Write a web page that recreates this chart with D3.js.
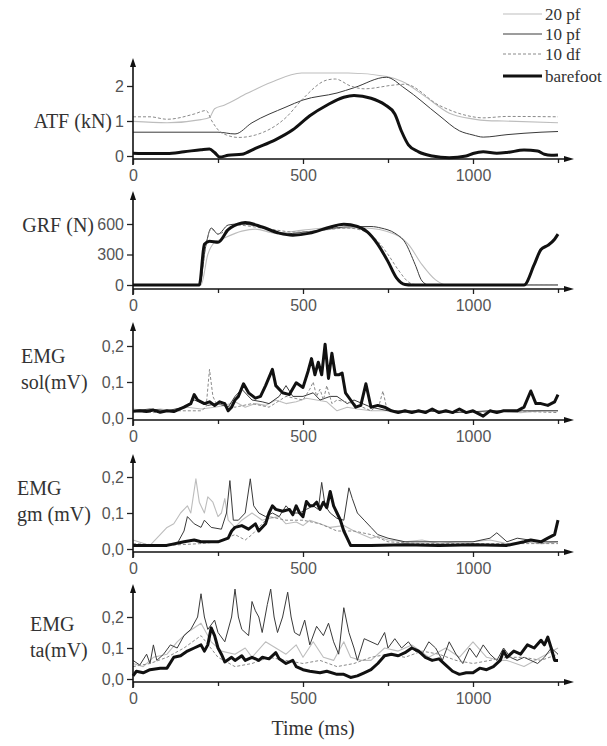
<!DOCTYPE html>
<html>
<head>
<meta charset="utf-8">
<script src="https://cdn.jsdelivr.net/npm/d3@7"></script>
<style>
	body { margin: 0; background: #fff; }
	svg { display: block; }
	.tick text { font-family: "Liberation Sans", Arial, sans-serif; font-size: 16px; fill: #555; }
	.ttl { font-family: "Liberation Serif", "Times New Roman", serif; font-size: 20px; fill: #333; }
</style>
</head>
<body>
<div id="chart"></div>
<script>

// series names and look (legend order)
let series = ['20 pf', '10 pf', '10 df', 'barefoot']

// ATF (kN) : [ms, value]
let atf20pf = [[0,0.99],[100,0.95],[200,1.04],[225,1.1],[240,1.35],[268,1.45],[336,1.79],[405,2.1],[496,2.37],[633,2.37],[747,2.27],[792,2.13],[861,1.69],[929,1.23],[998,1.06],[1043,1.01],[1089,1.0],[1250,0.95]]
let atf10pf = [[0,0.68],[150,0.68],[250,0.68],[300,0.63],[350,0.95],[450,1.4],[500,1.6],[600,1.8],[650,1.95],[745,2.25],[800,1.93],[900,1.16],[960,0.72],[1000,0.6],[1030,0.54],[1100,0.61],[1200,0.68],[1250,0.7]]
let atf10df = [[0,1.12],[50,1.12],[100,1.05],[180,1.2],[215,1.3],[232,1.0],[255,0.7],[275,0.6],[310,0.53],[360,0.6],[450,1.1],[500,1.64],[570,2.17],[595,2.2],[640,2.0],[680,1.92],[770,2.03],[800,2.05],[900,1.45],[980,1.16],[1030,1.09],[1100,1.13],[1250,1.12]]
let atfBare = [[0,0.08],[50,0.07],[100,0.07],[150,0.12],[200,0.18],[225,0.2],[240,0.1],[255,-0.03],[280,0.02],[320,0.05],[360,0.22],[420,0.47],[470,0.75],[520,1.15],[570,1.45],[620,1.68],[650,1.73],[700,1.65],[740,1.47],[770,1.2],[790,0.7],[810,0.32],[840,0.12],[880,0.0],[930,-0.05],[980,0.0],[1000,0.07],[1030,0.12],[1070,0.08],[1100,0.1],[1150,0.17],[1190,0.14],[1210,0.05],[1230,0.02],[1250,0.03]]

// GRF (N)
let grf20pf = [[0,0],[200,0],[220,300],[240,420],[260,450],[320,530],[360,550],[420,510],[500,540],[580,560],[680,560],[770,500],[810,400],[850,200],[890,50],[920,2],[1250,2]]
let grf10pf = [[0,0],[195,0],[215,400],[230,560],[250,500],[280,590],[310,600],[390,560],[440,500],[500,520],[560,540],[620,570],[700,575],[730,560],[770,510],[800,420],[830,200],[850,40],[870,0],[1250,0]]
let grf10df = [[0,0],[195,0],[215,400],[230,550],[250,500],[300,590],[400,550],[480,520],[560,540],[630,560],[680,530],[720,430],[750,300],[780,150],[810,30],[830,5],[1250,5]]
let grfBare = [[0,0],[195,0],[210,400],[225,430],[250,420],[280,545],[320,610],[330,615],[380,570],[430,510],[470,490],[520,510],[570,560],[620,598],[660,575],[690,520],[720,400],[750,230],[775,70],[800,5],[820,0],[1150,0],[1180,200],[1200,350],[1220,390],[1240,450],[1250,500]]

// EMG sol (mV)
let sol20pf = [[0,0.025],[40,0.02],[80,0.025],[120,0.02],[160,0.03],[200,0.025],[240,0.03],[270,0.035],[300,0.045],[330,0.03],[360,0.04],[390,0.035],[420,0.05],[450,0.04],[480,0.045],[510,0.055],[540,0.05],[570,0.045],[600,0.02],[630,0.03],[660,0.025],[700,0.02],[760,0.02],[820,0.015],[900,0.02],[980,0.015],[1060,0.02],[1140,0.015],[1200,0.02],[1250,0.02]]
let sol10pf = [[0,0.02],[50,0.025],[100,0.02],[150,0.03],[180,0.05],[220,0.035],[250,0.04],[280,0.03],[300,0.06],[320,0.08],[350,0.05],[380,0.045],[400,0.04],[430,0.06],[450,0.09],[470,0.06],[500,0.06],[530,0.07],[550,0.05],[580,0.06],[600,0.06],[630,0.04],[650,0.05],[700,0.03],[750,0.02],[850,0.02],[950,0.015],[1050,0.02],[1150,0.02],[1250,0.02]]
let sol10df = [[0,0.02],[60,0.015],[120,0.02],[200,0.02],[215,0.03],[225,0.135],[235,0.06],[245,0.04],[300,0.03],[350,0.04],[400,0.03],[450,0.06],[500,0.05],[520,0.08],[530,0.1],[540,0.06],[550,0.08],[560,0.05],[570,0.09],[585,0.04],[600,0.05],[650,0.04],[700,0.02],[725,0.04],[735,0.075],[748,0.02],[800,0.015],[900,0.02],[1000,0.015],[1100,0.02],[1250,0.015]]
let solBare = [[0,0.019],[20,0.02],[40,0.018],[60,0.022],[80,0.016],[100,0.02],[120,0.018],[150,0.03],[170,0.04],[180,0.065],[190,0.05],[200,0.045],[210,0.04],[225,0.045],[240,0.035],[255,0.045],[270,0.04],[280,0.02],[290,0.03],[300,0.05],[310,0.06],[325,0.095],[340,0.07],[360,0.055],[375,0.06],[390,0.09],[410,0.135],[420,0.09],[440,0.07],[460,0.065],[480,0.098],[500,0.085],[515,0.13],[525,0.165],[535,0.12],[545,0.155],[555,0.12],[565,0.205],[575,0.11],[585,0.18],[595,0.12],[605,0.12],[615,0.125],[625,0.07],[640,0.05],[655,0.03],[670,0.035],[685,0.095],[700,0.03],[720,0.035],[740,0.03],[760,0.02],[780,0.015],[800,0.02],[820,0.015],[840,0.02],[860,0.015],[880,0.025],[900,0.015],[920,0.02],[940,0.015],[960,0.025],[980,0.015],[1000,0.02],[1030,0.005],[1050,0.02],[1070,0.015],[1090,0.02],[1110,0.02],[1130,0.02],[1150,0.03],[1170,0.075],[1185,0.04],[1200,0.04],[1220,0.035],[1240,0.045],[1250,0.065]]

// EMG gm (mV)
let gm20pf = [[0,0.025],[50,0.01],[80,0.04],[100,0.06],[120,0.07],[140,0.1],[160,0.12],[170,0.1],[185,0.195],[195,0.13],[210,0.1],[220,0.145],[235,0.13],[250,0.09],[260,0.1],[270,0.14],[280,0.08],[300,0.06],[320,0.08],[350,0.1],[380,0.08],[400,0.085],[430,0.09],[450,0.07],[480,0.075],[500,0.065],[520,0.08],[550,0.07],[580,0.06],[620,0.065],[650,0.05],[700,0.03],[720,0.035],[750,0.025],[800,0.02],[850,0.025],[900,0.015],[950,0.02],[1000,0.02],[1050,0.025],[1100,0.015],[1150,0.02],[1200,0.015],[1250,0.02]]
let gm10pf = [[0,0.01],[60,0.01],[130,0.015],[150,0.05],[160,0.09],[180,0.07],[200,0.06],[210,0.08],[230,0.06],[260,0.055],[275,0.1],[285,0.19],[295,0.08],[310,0.08],[330,0.1],[345,0.195],[355,0.12],[370,0.1],[390,0.09],[410,0.1],[430,0.09],[450,0.12],[470,0.1],[490,0.1],[510,0.11],[530,0.12],[545,0.11],[555,0.185],[565,0.12],[580,0.1],[600,0.085],[620,0.08],[635,0.17],[645,0.14],[660,0.1],[680,0.08],[700,0.06],[720,0.04],[750,0.03],[800,0.02],[900,0.02],[1000,0.02],[1050,0.03],[1070,0.045],[1100,0.02],[1130,0.03],[1200,0.02],[1250,0.02]]
let gm10df = [[0,0.015],[100,0.01],[200,0.015],[250,0.02],[300,0.04],[330,0.025],[350,0.04],[400,0.09],[450,0.08],[500,0.08],[550,0.07],[600,0.05],[650,0.05],[700,0.04],[750,0.02],[850,0.015],[1000,0.015],[1100,0.015],[1250,0.015]]
let gmBare = [[0,0.01],[50,0.01],[100,0.01],[150,0.02],[180,0.025],[200,0.02],[250,0.02],[280,0.03],[290,0.05],[300,0.06],[320,0.065],[340,0.055],[360,0.07],[370,0.05],[390,0.07],[400,0.1],[410,0.12],[420,0.11],[440,0.105],[460,0.11],[470,0.095],[480,0.12],[490,0.1],[500,0.09],[510,0.132],[520,0.12],[530,0.12],[540,0.13],[550,0.11],[560,0.13],[570,0.115],[580,0.16],[590,0.12],[600,0.1],[610,0.08],[620,0.05],[630,0.03],[640,0.01],[700,0.01],[800,0.012],[900,0.01],[1000,0.012],[1100,0.01],[1150,0.02],[1170,0.025],[1200,0.02],[1220,0.03],[1240,0.04],[1250,0.08]]

// EMG ta (mV)
let ta20pf = [[0,0.05],[30,0.04],[60,0.07],[100,0.08],[130,0.12],[160,0.15],[200,0.18],[230,0.12],[260,0.09],[300,0.08],[330,0.1],[350,0.07],[390,0.12],[420,0.1],[450,0.08],[480,0.11],[500,0.07],[530,0.12],[560,0.07],[590,0.06],[620,0.12],[640,0.07],[670,0.06],[700,0.06],[740,0.1],[780,0.09],[820,0.11],[870,0.07],[920,0.1],[960,0.07],[1000,0.12],[1040,0.07],[1080,0.06],[1100,0.06],[1150,0.04],[1200,0.07],[1250,0.1]]
let ta10pf = [[0,0.06],[20,0.045],[40,0.08],[50,0.05],[60,0.11],[70,0.06],[90,0.08],[110,0.11],[130,0.1],[150,0.14],[170,0.16],[190,0.2],[200,0.275],[210,0.2],[220,0.16],[240,0.19],[250,0.15],[270,0.12],[290,0.2],[300,0.29],[310,0.2],[320,0.16],[340,0.14],[350,0.25],[360,0.22],[370,0.2],[380,0.15],[395,0.24],[405,0.29],[415,0.2],[425,0.15],[440,0.2],[455,0.28],[465,0.2],[475,0.15],[490,0.14],[505,0.19],[520,0.11],[540,0.17],[560,0.14],[575,0.18],[590,0.12],[605,0.08],[620,0.23],[635,0.15],[650,0.1],[660,0.06],[680,0.13],[700,0.12],[720,0.11],[740,0.15],[750,0.1],[770,0.13],[790,0.1],[810,0.12],[830,0.09],[850,0.08],[870,0.12],[890,0.1],[910,0.06],[930,0.12],[950,0.08],[970,0.05],[990,0.1],[1010,0.07],[1030,0.11],[1050,0.08],[1070,0.06],[1090,0.1],[1110,0.07],[1130,0.06],[1150,0.07],[1170,0.06],[1190,0.05],[1210,0.07],[1230,0.1],[1250,0.08]]
let ta10df = [[0,0.04],[50,0.05],[100,0.07],[150,0.1],[200,0.14],[250,0.07],[300,0.04],[350,0.05],[400,0.07],[450,0.06],[500,0.05],[550,0.06],[600,0.04],[650,0.05],[700,0.07],[750,0.08],[800,0.07],[850,0.09],[900,0.08],[950,0.06],[1000,0.05],[1050,0.06],[1100,0.07],[1150,0.07],[1200,0.06],[1250,0.08]]
let taBare = [[0,0.01],[10,0.025],[30,0.02],[50,0.03],[80,0.035],[100,0.035],[120,0.07],[140,0.075],[160,0.09],[180,0.1],[200,0.11],[210,0.09],[220,0.11],[230,0.165],[240,0.14],[250,0.1],[260,0.08],[270,0.055],[290,0.07],[300,0.06],[320,0.075],[330,0.06],[350,0.07],[370,0.06],[380,0.07],[400,0.065],[420,0.085],[430,0.065],[450,0.05],[470,0.06],[480,0.04],[500,0.03],[520,0.025],[550,0.02],[570,0.025],[600,0.015],[620,0.015],[640,0.005],[660,0.01],[680,0.02],[700,0.03],[720,0.05],[740,0.075],[760,0.08],[780,0.075],[800,0.085],[820,0.1],[840,0.09],[860,0.07],[880,0.06],[900,0.065],[920,0.045],[940,0.025],[960,0.015],[980,0.02],[1000,0.02],[1020,0.035],[1040,0.03],[1060,0.04],[1080,0.06],[1090,0.09],[1100,0.07],[1120,0.09],[1140,0.08],[1160,0.11],[1180,0.1],[1200,0.125],[1210,0.11],[1220,0.135],[1230,0.1],[1240,0.06],[1250,0.06]]

let xTicks = [0, 500, 1000]
let xMinor = [250, 750, 1250]

let W = 607, H = 746
let svg = d3.select('#chart').append('svg').attr('width', W).attr('height', H)

let x = d3.scaleLinear().domain([0, 1250]).range([133, 558])

let styles = {
	'20 pf':    { stroke: '#bdbdbd', width: 1.1, dash: null },
	'10 pf':    { stroke: '#3a3a3a', width: 1, dash: null },
	'10 df':    { stroke: '#8a8a8a', width: 1, dash: '3,2' },
	'barefoot': { stroke: '#111', width: 3, dash: null }
}

let comma = d => d3.format('.1f')(d).replace('.', ',')

let panels = [
	{ data: [atf20pf, atf10pf, atf10df, atfBare], domain: [0, 2], range: [156, 86], axisY: 159, top: 58, ticks: [0, 1, 2], fmt: d3.format('d'), smooth: true },
	{ data: [grf20pf, grf10pf, grf10df, grfBare], domain: [0, 600], range: [285, 224], axisY: 289, top: 191, ticks: [0, 300, 600], fmt: d3.format('d'), smooth: true },
	{ data: [sol20pf, sol10pf, sol10df, solBare], domain: [0, 0.2], range: [418, 346], axisY: 420, top: 322, ticks: [0, 0.1, 0.2], fmt: comma, smooth: false },
	{ data: [gm20pf, gm10pf, gm10df, gmBare], domain: [0, 0.2], range: [549, 477], axisY: 552, top: 454, ticks: [0, 0.1, 0.2], fmt: comma, smooth: false },
	{ data: [ta20pf, ta10pf, ta10df, taBare], domain: [0, 0.2], range: [679, 617], axisY: 682, top: 584, ticks: [0, 0.1, 0.2], fmt: comma, smooth: false }
]

let titles = [
	{ lines: ['ATF (kN)'], x: 112, y: 121, anchor: 'end' },
	{ lines: ['GRF (N)'], x: 94, y: 225, anchor: 'end' },
	{ lines: ['EMG', 'sol(mV)'], x: 21, y: 356, anchor: 'start' },
	{ lines: ['EMG', 'gm (mV)'], x: 17, y: 488, anchor: 'start' },
	{ lines: ['EMG', 'ta(mV)'], x: 30, y: 624, anchor: 'start' }
]

panels.forEach((p, i) => {
	let y = d3.scaleLinear().domain(p.domain).range(p.range)
	let g = svg.append('g')

	let line = d3.line().x(d => x(d[0])).y(d => y(d[1]))
		.curve(p.smooth ? d3.curveMonotoneX : d3.curveLinear)

	p.data.forEach((d, k) => {
		let s = styles[series[k]]
		g.append('path').datum(d).attr('d', line)
			.attr('fill', 'none').attr('stroke', s.stroke).attr('stroke-width', s.width)
			.attr('stroke-dasharray', s.dash).attr('stroke-linejoin', 'round')
	})

	// y axis
	let ya = g.append('g').attr('transform', `translate(${x(0)},0)`)
		.call(d3.axisLeft(y).tickValues(p.ticks).tickFormat(p.fmt).tickSize(6).tickPadding(3))
	ya.select('.domain').remove()
	ya.selectAll('.tick line').attr('stroke', '#222').attr('stroke-width', 1.3)
	g.append('line').attr('x1', x(0)).attr('x2', x(0)).attr('y1', p.axisY + 6).attr('y2', p.top + 6)
		.attr('stroke', '#111').attr('stroke-width', 1.6)
	g.append('path').attr('d', `M${x(0) - 3},${p.top + 9}L${x(0)},${p.top}L${x(0) + 3},${p.top + 9}Z`).attr('fill', '#111')

	// x axis
	let xa = g.append('g').attr('transform', `translate(0,${p.axisY})`)
		.call(d3.axisBottom(x).tickValues(xTicks).tickFormat(d3.format('d')).tickSize(5).tickPadding(6))
	xa.select('.domain').remove()
	xa.selectAll('.tick line').attr('stroke', '#222').attr('stroke-width', 1.3)
	let xm = g.append('g').attr('transform', `translate(0,${p.axisY})`)
		.call(d3.axisBottom(x).tickValues(xMinor).tickSize(4).tickFormat(''))
	xm.select('.domain').remove()
	xm.selectAll('.tick line').attr('stroke', '#222').attr('stroke-width', 1.3)
	g.append('line').attr('x1', x(0)).attr('x2', 566).attr('y1', p.axisY).attr('y2', p.axisY)
		.attr('stroke', '#111').attr('stroke-width', 1.6)
	g.append('path').attr('d', `M564,${p.axisY - 3}L574,${p.axisY}L564,${p.axisY + 3}Z`).attr('fill', '#111')

	// title
	let t = titles[i]
	let tx = g.append('text').attr('class', 'ttl').attr('text-anchor', t.anchor)
	t.lines.forEach((s, j) => {
		tx.append('tspan').attr('x', t.x).attr('y', t.y + j * 26).attr('dy', '0.35em').text(s)
	})
})

svg.append('text').attr('class', 'ttl').attr('x', 313).attr('y', 728).attr('dy', '0.35em')
	.attr('text-anchor', 'middle').text('Time (ms)')

// legend
let legY = [14, 34, 54, 76]
let leg = svg.append('g')
series.forEach((s, k) => {
	let st = styles[s]
	leg.append('line').attr('x1', 503).attr('x2', 542).attr('y1', legY[k]).attr('y2', legY[k])
		.attr('stroke', st.stroke).attr('stroke-width', st.width).attr('stroke-dasharray', st.dash)
	leg.append('text').attr('class', 'ttl').style('font-size', '17px').attr('x', 545).attr('y', legY[k]).attr('dy', '0.35em').text(s)
})

</script>
</body>
</html>
